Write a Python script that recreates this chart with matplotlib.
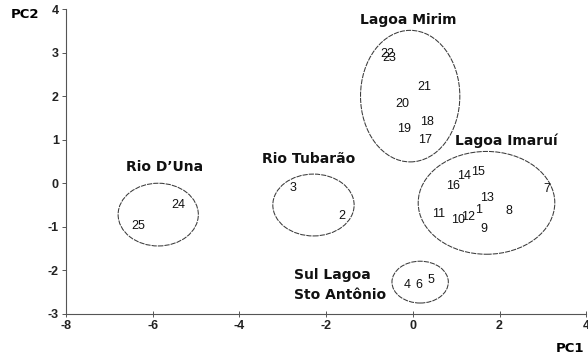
import matplotlib
matplotlib.use("Agg")
import matplotlib.pyplot as plt
from matplotlib.patches import Ellipse

plt.rcParams['font.family'] = ['Liberation Sans', 'DejaVu Sans']

# Sample scores on the first two principal components
sample_ids = ['1', '2', '3', '4', '5', '6', '7', '8', '9', '10', '11', '12', '13',
              '14', '15', '16', '17', '18', '19', '20', '21', '22', '23', '24', '25']
pc1 = [1.51, -1.63, -2.77, -0.13, 0.43, 0.13, 3.09, 2.21, 1.65, 1.05, 0.59, 1.28, 1.72,
       1.19, 1.51, 0.94, 0.29, 0.33, -0.20, -0.25, 0.26, -0.59, -0.54, -5.41, -6.33]
pc2 = [-0.62, -0.76, -0.11, -2.33, -2.22, -2.33, -0.14, -0.64, -1.05, -0.85, -0.71, -0.78, -0.34,
       0.16, 0.25, -0.07, 1.00, 1.40, 1.24, 1.81, 2.20, 2.97, 2.88, -0.50, -0.98]

# Groups: label text and position, ellipse centre and size (PC units)
group_names = ['Lagoa Mirim', 'Lagoa Imaruí', 'Rio D\u2019Una', 'Rio Tubarão', 'Sul Lagoa', 'Sto Antônio']
group_label_x = [-0.11, 2.16, -5.73, -2.40, -2.75, -2.75]
group_label_y = [3.75, 0.98, 0.37, 0.55, -2.11, -2.56]
group_label_ha = ['center', 'center', 'center', 'center', 'left', 'left']
ellipse_cx = [-0.06, 1.70, -5.87, -2.29, 0.17]
ellipse_cy = [2.00, -0.45, -0.72, -0.50, -2.27]
ellipse_w = [2.29, 3.15, 1.85, 1.875, 1.30]
ellipse_h = [3.02, 2.36, 1.44, 1.42, 0.96]

xticks = [-8, -6, -4, -2, 0, 2, 4]
yticks = [-3, -2, -1, 0, 1, 2, 3, 4]

fig = plt.figure(figsize=(5.88, 3.60), dpi=100)
ax = fig.add_axes([0.112, 0.128, 0.885, 0.847])
ax.set_xlim(-8, 4)
ax.set_ylim(-3, 4)

for sid, x, y in zip(sample_ids, pc1, pc2):
    ax.text(x, y, sid, ha='center', va='center', fontsize=9, color='#111111')

for cx, cy, w, h in zip(ellipse_cx, ellipse_cy, ellipse_w, ellipse_h):
    ax.add_patch(Ellipse((cx, cy), w, h, fill=False, edgecolor='#3a3a3a',
                         linewidth=0.75, linestyle=(0, (5, 1))))

bold_font = ['DejaVu Sans']
for name, gx, gy, ha in zip(group_names, group_label_x, group_label_y, group_label_ha):
    ax.text(gx, gy, name, ha=ha, va='center', fontsize=10, fontweight='bold',
            family=bold_font, color='#111111')

for side in ('top', 'right'):
    ax.spines[side].set_visible(False)
for side in ('left', 'bottom'):
    ax.spines[side].set_color('#555555')
    ax.spines[side].set_linewidth(0.8)

ax.set_xticks(xticks)
ax.set_yticks(yticks)
ax.set_xticklabels([str(t) for t in xticks], fontsize=9, fontweight='bold', color='#222222')
ax.set_yticklabels([str(t) for t in yticks], fontsize=9, fontweight='bold', color='#222222')
ax.tick_params(axis='x', direction='inout', length=5, width=0.7, color='#555555', pad=2)
ax.tick_params(axis='y', direction='out', length=3, width=0.7, color='#555555', pad=2)

fig.text(25 / 588, 1 - 14 / 360, 'PC2', ha='center', va='center', fontsize=9.5,
         fontweight='bold', family=bold_font)
fig.text(570 / 588, 1 - 348 / 360, 'PC1', ha='center', va='center', fontsize=9.5,
         fontweight='bold', family=bold_font)

fig.savefig('out.png', dpi=100)
